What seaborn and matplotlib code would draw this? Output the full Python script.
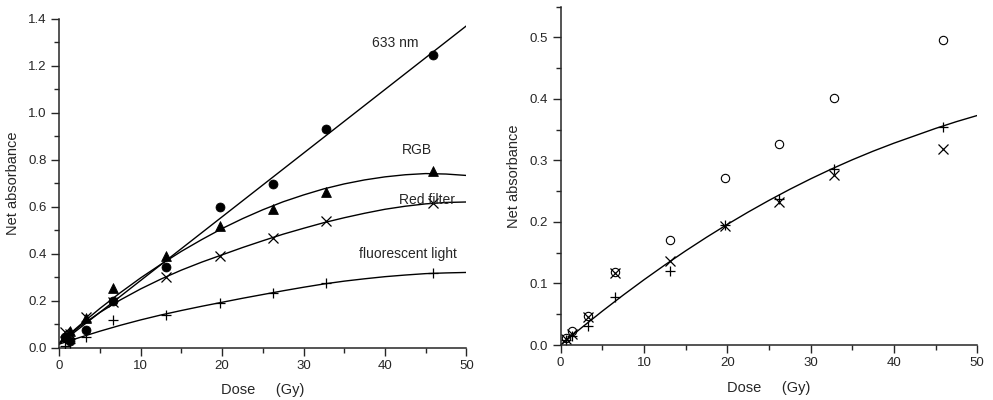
import numpy as np
import pandas as pd
import seaborn as sns
import matplotlib.pyplot as plt
from matplotlib.ticker import MultipleLocator

# doses (Gy)
dose = [0.66, 1.31, 3.28, 6.56, 13.1, 19.7, 26.2, 32.8, 45.9]

# left panel, measured points
nm633 = [0.045, 0.03, 0.075, 0.20, 0.343, 0.60, 0.695, 0.93, 1.244]
rgb = [0.05, 0.071, 0.125, 0.253, 0.388, 0.518, 0.59, 0.661, 0.753]
red_filter = [0.068, 0.06, 0.13, 0.196, 0.302, 0.389, 0.466, 0.54, 0.617]
fluor = [0.008, 0.02, 0.044, 0.118, 0.139, 0.192, 0.232, 0.275, 0.318]

# left panel, fitted curves
fit_x = [0, 2.5, 5, 7.5, 10, 12.5, 15, 17.5, 20, 22.5, 25, 27.5, 30,
         32.5, 35, 37.5, 40, 42.5, 45, 47.5, 50]
fit_633_x = [0, 50]
fit_633 = [0.015, 1.37]
fit_rgb = [0.02, 0.095, 0.167, 0.234, 0.297, 0.355, 0.41, 0.46, 0.507, 0.549, 0.587,
           0.621, 0.65, 0.676, 0.697, 0.714, 0.727, 0.736, 0.741, 0.739, 0.733]
fit_red = [0.02, 0.09, 0.15, 0.203, 0.25, 0.292, 0.33, 0.364, 0.395, 0.426, 0.455,
           0.483, 0.508, 0.532, 0.553, 0.572, 0.589, 0.602, 0.612, 0.618, 0.62]
fit_fluor = [0.015, 0.043, 0.07, 0.095, 0.118, 0.139, 0.158, 0.176, 0.193, 0.21, 0.226,
             0.242, 0.257, 0.271, 0.283, 0.293, 0.302, 0.309, 0.315, 0.318, 0.32]

# right panel
circ_r = [0.012, 0.023, 0.047, 0.119, 0.171, 0.272, 0.327, 0.401, 0.496]
cross_r = [0.01, 0.018, 0.046, 0.117, 0.137, 0.193, 0.233, 0.276, 0.319]
plus_r = [0.008, 0.015, 0.031, 0.078, 0.121, 0.195, 0.237, 0.286, 0.355]
fit_r = [0.0, 0.028, 0.055, 0.081, 0.106, 0.13, 0.153, 0.175, 0.196, 0.216, 0.235,
         0.253, 0.27, 0.286, 0.301, 0.315, 0.328, 0.34, 0.352, 0.363, 0.373]

sns.set_style("ticks")
plt.rcParams["font.family"] = ["Liberation Sans", "DejaVu Sans"]
plt.rcParams["axes.linewidth"] = 1.1

fig = plt.figure(figsize=(9.93, 4.0), dpi=100)
ax1 = fig.add_axes([0.0597, 0.131, 0.41, 0.822])
ax2 = fig.add_axes([0.5646, 0.1375, 0.4195, 0.846])

# ---- left
sns.lineplot(x=fit_633_x, y=fit_633, ax=ax1, color="black", lw=1)
for ys in [fit_rgb, fit_red, fit_fluor]:
    sns.lineplot(x=fit_x, y=ys, ax=ax1, color="black", lw=1)

sns.scatterplot(x=dose, y=nm633, ax=ax1, marker="o", color="black", s=42, edgecolor="black", zorder=3)
sns.scatterplot(x=dose, y=rgb, ax=ax1, marker="^", color="black", s=50, edgecolor="black", zorder=3)
ax1.plot(dose, red_filter, ls="none", marker="x", ms=7, mew=0.9, color="black", zorder=3)
ax1.plot(dose, fluor, ls="none", marker="+", ms=7, mew=0.9, color="black", zorder=3)

ax1.text(41.3, 1.295, "633 nm", ha="center", va="center", fontsize=10)
ax1.text(43.9, 0.841, "RGB", ha="center", va="center", fontsize=10)
ax1.text(45.1, 0.628, "Red filter", ha="center", va="center", fontsize=10)
ax1.text(42.8, 0.399, "fluorescent light", ha="center", va="center", fontsize=10)

ax1.set_xlim(0, 50)
ax1.set_ylim(0, 1.4)
ax1.yaxis.set_major_locator(MultipleLocator(0.2))
ax1.yaxis.set_minor_locator(MultipleLocator(0.1))
ax1.set_yticklabels([f"{v:.1f}" for v in ax1.get_yticks()])

# ---- right
sns.lineplot(x=fit_x, y=fit_r, ax=ax2, color="black", lw=1)
ax2.plot(dose, circ_r, ls="none", marker="o", ms=6, mfc="none", mec="black", mew=0.8)
ax2.plot(dose, cross_r, ls="none", marker="x", ms=7, mew=0.9, color="black")
ax2.plot(dose, plus_r, ls="none", marker="+", ms=7, mew=0.9, color="black")

ax2.set_xlim(0, 50)
ax2.set_ylim(0, 0.55)
ax2.yaxis.set_minor_locator(MultipleLocator(0.05))
ax2.set_yticks([0, 0.1, 0.2, 0.3, 0.4, 0.5])
ax2.set_yticklabels(["0.0", "0.1", "0.2", "0.3", "0.4", "0.5"])

for ax in (ax1, ax2):
    sns.despine(ax=ax)
    ax.xaxis.set_major_locator(MultipleLocator(10))
    ax.xaxis.set_minor_locator(MultipleLocator(5))
    ax.tick_params(which="major", direction="out", length=6, width=1, labelsize=9.5, pad=3)
    ax.tick_params(which="minor", direction="out", length=3.5, width=1)
    ax.set_xlabel("Dose     (Gy)", fontsize=10.5, labelpad=8)
    ax.set_ylabel("Net absorbance", fontsize=10.5, labelpad=6)

fig.savefig("out.png", dpi=100)
